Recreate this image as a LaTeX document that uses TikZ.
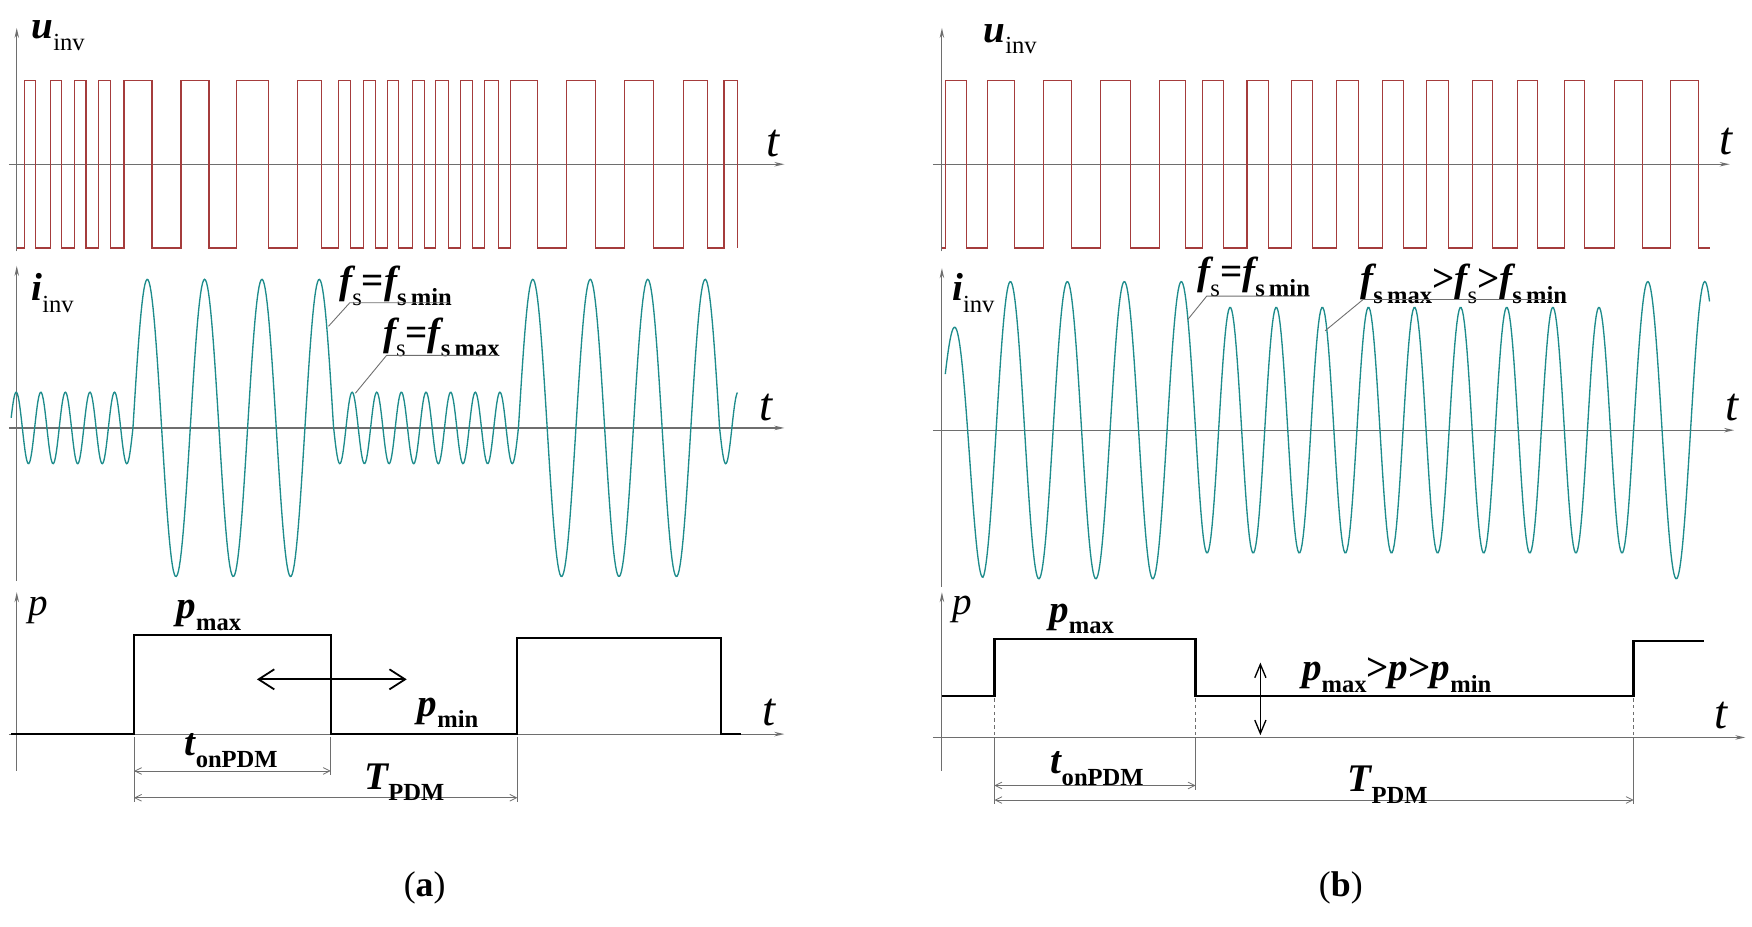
\documentclass[tikz,border=0pt]{standalone}
\usepackage{fontspec}
\setmainfont{Liberation Serif}
\usetikzlibrary{arrows.meta}
\definecolor{ured}{RGB}{165,60,60}
\definecolor{icol}{RGB}{30,140,140}
\definecolor{axg}{RGB}{110,110,110}
\newcommand\lbm[2]{{\bfseries\itshape #1}\raisebox{-0.3em}{\fontsize{22}{22}\selectfont #2}}
\newcommand\lbb[2]{{\bfseries\itshape #1}\raisebox{-0.3em}{\fontsize{22}{22}\selectfont\bfseries #2}}
\begin{document}
\begin{tikzpicture}[x=1pt,y=-1pt,
  ax/.style={axg,line width=1pt,-{Stealth[length=9pt,width=4pt,open]}},
  lab/.style={inner sep=0pt,font=\fontsize{35}{37}\selectfont},
  tl/.style={inner sep=0pt,font=\fontsize{42}{44}\selectfont\itshape},
  uw/.style={ured,line width=1pt},
  iw/.style={icol,line width=1.2pt},
  pw/.style={black,line width=2pt},
  dim/.style={axg,line width=0.7pt,{Straight Barb[length=6pt,width=6pt]}-{Straight Barb[length=6pt,width=6pt]}},
  guide/.style={axg,line width=0.7pt},
  lead/.style={axg,line width=0.8pt}]
\useasboundingbox (0,0) rectangle (1568,829);
% ================= panel (a) =================
\draw[ax] (15,225) -- (15,25);
\draw[ax] (8,147) -- (702,147);
\node[tl] (ta1) at (692,128) {t};
\node[lab,anchor=west] (ua) at (28,32) {\lbm{u}{inv}};
\def\edgesa{22,32,45,55,67,77,88,99,111,136,162,187,212,240,266,288,303,314,325,336,347,357,369,380,390,401,412,423,434,446,457,481,507,533,559,585,612,633,648,660}
\draw[uw] (15,222) \foreach[count=\i] \e in \edgesa {-- (\e,{mod(\i,2)==1?222:72}) -- (\e,{mod(\i,2)==1?72:222})};
% current a
\draw[ax] (15,520) -- (15,238);
\draw[ax] (8,383) -- (702,383);
\node[tl] (ta2) at (686,365) {t};
\node[lab,anchor=west] (ia) at (28,262) {\lbm{i}{inv}};
\draw[iw] plot[domain=10:119,samples=160] (\x,{383-32*sin(360/22*(\x-119))})
  -- plot[domain=119:298.6,samples=200] (\x,{383-133*sin(360/51.3*(\x-119))})
  -- plot[domain=298.6:464,samples=220] (\x,{383+32*sin(360/22.05*(\x-298.6))})
  -- plot[domain=464:644,samples=200] (\x,{383-133*sin(360/51.43*(\x-464))})
  -- plot[domain=644:660,samples=30] (\x,{383+32*sin(360/22*(\x-644))});
\node[lab] (fa1) at (354,256) {\lbm{f}{s}{\bfseries=}\lbb{f}{s\,min}};
\draw[lead] (402,271) -- (313,271) -- (294,292);
\node[lab] (fa2) at (395,302) {\lbm{f}{s}{\bfseries=}\lbb{f}{s\,max}};
\draw[lead] (446,318) -- (346,318) -- (318,352);
% power a
\draw[ax] (15,690) -- (15,530);
\draw[ax] (8,657) -- (702,657);
\node[tl] (ta3) at (688,638) {t};
\node[lab,anchor=west] (pa) at (25,546) {\textit{p}};
\draw[pw] (10,657) -- (120,657) -- (120,568) -- (296,568) -- (296,657) -- (463,657) -- (463,571) -- (645,571) -- (645,657) -- (663,657);
\node[lab] (pmaxa) at (187,551) {\lbb{p}{max}};
\node[lab] (pmina) at (401,638) {\lbb{p}{min}};
\draw[black,line width=1.6pt,{Straight Barb[length=14pt,width=18pt]}-{Straight Barb[length=14pt,width=18pt]}] (230,608) -- (364,608);
\coordinate (a1) at (120,690); \coordinate (a2) at (296,690);
\coordinate (a3) at (120,714); \coordinate (a4) at (463,714);
\draw[guide] (120,660) -- (120,718); \draw[guide] (296,660) -- (296,694); \draw[guide] (463,660) -- (463,718);
\draw[dim] (a1) -- (a2);
\draw[dim] (a3) -- (a4);
\node[lab] (tona) at (207,672) {\lbb{t}{onPDM}};
\node[lab] (Ta) at (362,700) {\lbb{T}{PDM}};
\node[inner sep=0pt,font=\fontsize{32}{34}\selectfont] (capa) at (380,795) {(\textbf{a})};
% ================= panel (b) =================
\draw[ax] (843,225) -- (843,25);
\draw[ax] (835,147) -- (1548,147);
\node[tl] (tb1) at (1545,127) {t};
\node[lab,anchor=west] (ub) at (880,35) {\lbm{u}{inv}};
\def\edgesb{846,865,884,908,934,959,985,1012,1038,1061,1076,1095,1116,1135,1156,1175,1196,1216,1237,1256,1277,1296,1318,1336,1358,1376,1400,1418,1445,1470,1495,1520}
\draw[uw] (843,222) \foreach[count=\i] \e in \edgesb {-- (\e,{mod(\i,2)==1?222:72}) -- (\e,{mod(\i,2)==1?72:222})} -- (1530,222);
% current b
\draw[ax] (843,525) -- (843,240);
\draw[ax] (835,385) -- (1552,385);
\node[tl] (tb2) at (1550,365) {t};
\node[lab,anchor=west] (ib) at (852,262) {\lbm{i}{inv}};
\draw[iw] plot[domain=846:1070,samples=260] (\x,{385-min(133,80+53*(\x-846)/34)*cos(360/51*(\x-1057.25))})
  -- plot[domain=1070:1462,samples=400] (\x,{385+110*sin(360/41.26*(\x-1070))})
  -- plot[domain=1462:1530,samples=80] (\x,{385-133*sin(360/51*(\x-1462))});
\node[lab] (fb1) at (1122,248) {\lbm{f}{s}{\bfseries=}\lbb{f}{s\,min}};
\draw[lead] (1172,265) -- (1080,265) -- (1063,286);
\node[lab] (fb2) at (1310,254) {\lbb{f}{s\,max}{\bfseries>}\lbm{f}{s}{\bfseries>}\lbb{f}{s\,min}};
\draw[lead] (1390,268) -- (1220,268) -- (1186,296);
% power b
\draw[ax] (843,690) -- (843,530);
\draw[ax] (835,660) -- (1562,660);
\node[tl] (tb3) at (1540,640) {t};
\node[lab,anchor=west] (pb) at (852,545) {\textit{p}};
\draw[pw] (843,623) -- (890,623) -- (890,572) -- (1070,572) -- (1070,623) -- (1462,623) -- (1462,574) -- (1525,574);
\node[lab] (pmaxb) at (968,554) {\lbb{p}{max}};
\node[lab] (prng) at (1250,604) {\lbb{p}{max}{\bfseries>}\textit{\bfseries p}{\bfseries>}\lbb{p}{min}};
\draw[black,line width=1.2pt,{Straight Barb[length=12pt,width=10pt]}-{Straight Barb[length=12pt,width=10pt]}] (1128,593) -- (1128,658);
\draw[guide,dashed] (890,625) -- (890,660); \draw[guide,dashed] (1070,625) -- (1070,660); \draw[guide,dashed] (1462,625) -- (1462,660);
\draw[guide] (890,660) -- (890,720); \draw[guide] (1070,660) -- (1070,707); \draw[guide] (1462,660) -- (1462,720);
\coordinate (b1) at (890,703); \coordinate (b2) at (1070,703);
\coordinate (b3) at (890,716); \coordinate (b4) at (1462,716);
\draw[dim] (b1) -- (b2);
\draw[dim] (b3) -- (b4);
\node[lab] (tonb) at (982,688) {\lbb{t}{onPDM}};
\node[lab] (Tb) at (1242,702) {\lbb{T}{PDM}};
\node[inner sep=0pt,font=\fontsize{32}{34}\selectfont] (capb) at (1200,795) {(\textbf{b})};
\end{tikzpicture}
\end{document}
